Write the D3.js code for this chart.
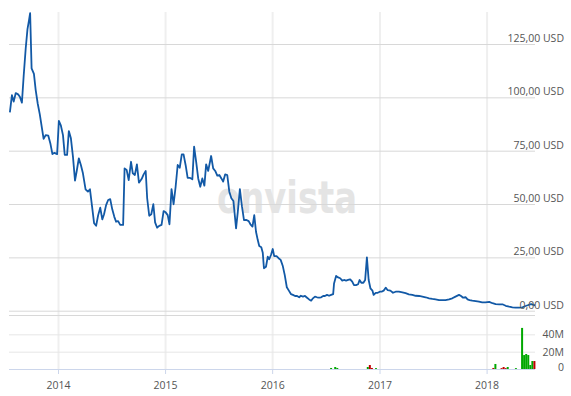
<!DOCTYPE html>
<html>
<head>
<meta charset="utf-8">
<script src="https://cdn.jsdelivr.net/npm/d3@7"></script>
<style>
  body { margin: 0; background: #fff; }
  text { font-family: "Open Sans", sans-serif; }
</style>
</head>
<body>
<div id="wrapper"></div>
<script>
// # Data
const priceDates = [
  "2013-07-21","2013-07-28","2013-08-03","2013-08-10","2013-08-18","2013-08-24","2013-08-31","2013-09-06",
  "2013-09-13","2013-09-19","2013-09-24","2013-09-28","2013-10-03","2013-10-11","2013-10-17","2013-10-24",
  "2013-10-31","2013-11-07","2013-11-13","2013-11-20","2013-11-29","2013-12-06","2013-12-13","2013-12-20",
  "2013-12-29","2014-01-04","2014-01-11","2014-01-18","2014-01-24","2014-02-01","2014-02-07","2014-02-14",
  "2014-02-21","2014-02-28","2014-03-06","2014-03-13","2014-03-20","2014-03-27","2014-04-05","2014-04-13",
  "2014-04-20","2014-04-27","2014-05-04","2014-05-11","2014-05-18","2014-05-25","2014-06-01","2014-06-07",
  "2014-06-14","2014-06-21","2014-06-28","2014-07-05","2014-07-12","2014-07-18","2014-07-25","2014-08-01",
  "2014-08-11","2014-08-16","2014-08-23","2014-08-30","2014-09-07","2014-09-13","2014-09-20","2014-09-27",
  "2014-10-04","2014-10-13","2014-10-20","2014-10-27","2014-11-01","2014-11-08","2014-11-15","2014-11-22",
  "2014-11-28","2014-12-05","2014-12-12","2014-12-20","2014-12-27","2015-01-03","2015-01-10","2015-01-16",
  "2015-01-23","2015-01-30","2015-02-06","2015-02-13","2015-02-20","2015-02-27","2015-03-05","2015-03-12",
  "2015-03-19","2015-03-26","2015-04-04","2015-04-10","2015-04-17","2015-04-24","2015-05-01","2015-05-08",
  "2015-05-15","2015-05-21","2015-05-28","2015-06-07","2015-06-14","2015-06-21","2015-06-28","2015-07-05",
  "2015-07-12","2015-07-18","2015-07-25","2015-08-01","2015-08-08","2015-08-15","2015-08-22","2015-08-31",
  "2015-09-06","2015-09-13","2015-09-20","2015-09-27","2015-10-04","2015-10-13","2015-10-19","2015-10-26",
  "2015-11-01","2015-11-07","2015-11-13","2015-11-18","2015-11-25","2015-11-30","2015-12-04","2015-12-11",
  "2015-12-17","2015-12-22","2015-12-28","2016-01-03","2016-01-08","2016-01-16","2016-01-23","2016-01-30",
  "2016-02-06","2016-02-13","2016-02-20","2016-02-27","2016-03-05","2016-03-12","2016-03-19","2016-03-26",
  "2016-04-02","2016-04-08","2016-04-15","2016-04-22","2016-04-29","2016-05-06","2016-05-13","2016-05-19",
  "2016-05-26","2016-06-02","2016-06-09","2016-06-16","2016-06-23","2016-06-29","2016-07-06","2016-07-13",
  "2016-07-20","2016-07-27","2016-07-30","2016-08-06","2016-08-13","2016-08-20","2016-08-27","2016-09-02",
  "2016-09-09","2016-09-16","2016-09-23","2016-09-30","2016-10-06","2016-10-13","2016-10-20","2016-10-25",
  "2016-10-31","2016-11-07","2016-11-13","2016-11-19","2016-11-25","2016-12-01","2016-12-08","2016-12-12",
  "2016-12-19","2016-12-26","2017-01-02","2017-01-08","2017-01-15","2017-01-22","2017-01-29","2017-02-07",
  "2017-02-16","2017-02-25","2017-03-08","2017-03-20","2017-03-31","2017-04-11","2017-04-23","2017-05-04",
  "2017-05-16","2017-05-27","2017-06-07","2017-06-19","2017-06-30","2017-07-11","2017-07-23","2017-08-03",
  "2017-08-14","2017-08-26","2017-09-06","2017-09-17","2017-09-29","2017-10-06","2017-10-13","2017-10-22",
  "2017-10-28","2017-11-04","2017-11-13","2017-11-25","2017-12-06","2017-12-17","2017-12-28","2018-01-10",
  "2018-01-21","2018-02-01","2018-02-13","2018-02-24","2018-03-07","2018-03-19","2018-03-30","2018-04-10",
  "2018-04-22","2018-05-03","2018-05-14","2018-05-26","2018-06-02","2018-06-10","2018-06-15"
];
const priceValues = [
  93, 101, 98, 102, 101.4, 100.3, 97.5, 110,
  123, 132, 136, 139.5, 113.6, 111, 103.4, 97,
  92, 85.8, 80.5, 82.3, 82, 78.4, 73.4, 74,
  73.4, 89, 86.7, 82.3, 73, 73, 84.2, 80.8,
  72.2, 61, 65.6, 71.4, 68.3, 64.4, 56.9, 55.8,
  56.9, 49, 41, 39.8, 44.8, 48.3, 42.8, 45.2,
  49.5, 51.9, 52.3, 47.5, 44, 41.7, 42, 40.2,
  40.2, 66.7, 66, 61.2, 69.8, 64.4, 63.6, 68.6,
  60, 61.7, 63.9, 65.5, 52.7, 44.5, 45.2, 49.9,
  41.4, 38.9, 39.8, 40.2, 46.7, 46.1, 44.8, 40.5,
  57, 49.9, 58.1, 68.3, 67, 73.3, 73.3, 68.3,
  62.3, 62.3, 61.6, 76.9, 69.8, 62, 58.1, 62,
  58.6, 68.6, 65.5, 72.5, 66.7, 65.5, 63.3, 63.6,
  62, 60.5, 63.9, 63.6, 55.8, 52.7, 51.4, 38.6,
  46.4, 57, 49, 42.5, 42.6, 42, 40.5, 39.4,
  44.8, 37, 33.1, 30.3, 29.7, 27.2, 19.9, 20.6,
  25.3, 24.1, 26.1, 28.9, 25.6, 25.6, 24.6, 23.8,
  21.1, 16.7, 11, 9.4, 7.8, 7.4, 6.9, 6.9,
  6.3, 7, 6.6, 6.9, 6.1, 5.3, 4.7, 5.8,
  6.6, 6.3, 6.1, 6.3, 6.9, 6.9, 7.4, 7,
  7.4, 7.8, 12.8, 16.3, 15.6, 15.2, 14.1, 14.4,
  14.1, 14.4, 14.7, 13.6, 12, 12, 12.4, 14.4,
  13.1, 13.1, 14.4, 25, 14.4, 10.5, 9.4, 7.4,
  8.4, 8.4, 8.9, 8.9, 9.4, 10.8, 9.6, 9.4,
  8.4, 8.9, 8.9, 8.6, 8.2, 7.7, 7.4, 7,
  6.9, 6.6, 6.3, 5.8, 5.5, 5.3, 5, 5,
  5, 5.3, 5.8, 6.6, 7.4, 6.9, 6.1, 6.3,
  5.3, 5, 4.7, 4.5, 4.2, 3.9, 3.9, 4.1,
  3.5, 3.1, 3, 3, 2.3, 1.9, 1.6, 1.4,
  1.4, 1.6, 2.2, 2.8, 3.1, 2.7, 2.5
];

// weekly traded volume, "up" = green week, "down" = red week
const volumeDates = [
  "2016-07-20","2016-08-03","2016-08-10","2016-11-22","2016-11-29","2016-12-06","2016-12-20",
  "2018-01-24","2018-01-31","2018-02-21","2018-02-28","2018-03-07","2018-03-14","2018-04-11",
  "2018-05-02","2018-05-09","2018-05-16","2018-05-23","2018-05-30","2018-06-06","2018-06-13"
];
const volumeValues = [
  1.2e6, 2.3e6, 1.2e6, 2.3e6, 4.6e6, 1.2e6, 1.0e6,
  1.2e6, 5.8e6, 1.0e6, 2.3e6, 1.0e6, 2.3e6, 1.0e6,
  47.4e6, 16.1e6, 17.3e6, 16.1e6, 4.6e6, 9.2e6, 9.2e6
];
const volumeDirections = [
  "up","up","up","up","down","down","up",
  "down","up","down","down","down","up","up",
  "up","up","up","up","up","up","down"
];

const yearTicks = ["2014-01-01","2015-01-01","2016-01-01","2017-01-01","2018-01-01"];
const priceTicks = [0, 25, 50, 75, 100, 125];
const volumeTicks = [0, 20e6, 40e6];

function drawChart() {
  const parseDate = d3.timeParse("%Y-%m-%d");
  const prices = priceDates.map((d, i) => ({ date: parseDate(d), value: priceValues[i] }));
  const volumes = volumeDates.map((d, i) => ({
    date: parseDate(d), value: volumeValues[i], dir: volumeDirections[i]
  }));

  // # Dimensions
  const dimensions = {
    width: 571,
    height: 396,
    left: 9,
    right: 535,
    priceTop: 12,
    priceBottom: 310.7,
    volumeTop: 315,
    volumeBottom: 369,
  };

  const wrapper = d3.select("#wrapper")
    .append("svg")
    .attr("width", dimensions.width)
    .attr("height", dimensions.height);

  // # Scales
  const xScale = d3.scaleTime()
    .domain([parseDate("2013-07-18"), parseDate("2018-06-15")])
    .range([dimensions.left, dimensions.right]);

  const yScale = d3.scaleLinear()
    .domain([0, 140])
    .range([dimensions.priceBottom, dimensions.priceTop]);

  const volScale = d3.scaleLinear()
    .domain([0, 62.3e6])
    .range([dimensions.volumeBottom, dimensions.volumeTop]);

  // # Vertical year grid (light, 2px)
  const xGrid = wrapper.append("g")
    .attr("transform", `translate(0, ${dimensions.volumeBottom})`)
    .call(d3.axisBottom(xScale)
      .tickValues(yearTicks.map(parseDate))
      .tickSize(-(dimensions.volumeBottom - dimensions.priceTop))
      .tickFormat(""));
  xGrid.select(".domain").remove();
  xGrid.selectAll("line").attr("stroke", "#efefef").attr("stroke-width", 2);

  // # Watermark
  wrapper.append("text")
    .attr("x", 287)
    .attr("y", 213)
    .attr("text-anchor", "middle")
    .attr("textLength", 140)
    .attr("lengthAdjust", "spacingAndGlyphs")
    .style("font-family", "'DejaVu Sans', sans-serif")
    .style("font-weight", "bold")
    .style("font-size", "44px")
    .attr("fill", "#e4e4e4")
    .text("onvista");

  // # Price grid
  const yAxis = wrapper.append("g")
    .attr("transform", `translate(${dimensions.right}, 0)`)
    .call(d3.axisLeft(yScale)
      .tickValues(priceTicks)
      .tickSize(dimensions.right - dimensions.left)
      .tickFormat(""));
  yAxis.select(".domain").remove();
  yAxis.selectAll("line").attr("stroke", "#d8d8d8").attr("stroke-width", 1);

  // # Volume panel grid
  const volAxis = wrapper.append("g")
    .attr("transform", `translate(${dimensions.right}, 0)`)
    .call(d3.axisLeft(volScale)
      .tickValues(volumeTicks.filter(d => d > 0))
      .tickSize(dimensions.right - dimensions.left)
      .tickFormat(""));
  volAxis.select(".domain").remove();
  volAxis.selectAll("line").attr("stroke", "#e6e6e6").attr("stroke-width", 1);

  wrapper.append("line")
    .attr("x1", dimensions.left).attr("x2", dimensions.right)
    .attr("y1", dimensions.volumeTop + 0.5).attr("y2", dimensions.volumeTop + 0.5)
    .attr("stroke", "#d8d8d8");

  // # Volume bars
  wrapper.append("g")
    .selectAll("rect")
    .data(volumes)
    .join("rect")
    .attr("x", d => xScale(d.date) - 1)
    .attr("y", d => volScale(d.value))
    .attr("width", 2)
    .attr("height", d => dimensions.volumeBottom - volScale(d.value))
    .attr("fill", d => d.dir === "up" ? "#00a800" : "#c00000");

  // # Bottom axis (bluish line + year labels)
  const xAxis = wrapper.append("g")
    .attr("transform", `translate(0, ${dimensions.volumeBottom})`)
    .call(d3.axisBottom(xScale)
      .tickValues(yearTicks.map(parseDate))
      .tickSize(5)
      .tickPadding(8)
      .tickFormat(d3.timeFormat("%Y")));
  xAxis.select(".domain")
    .attr("d", `M${dimensions.left},0.5H${dimensions.right}`)
    .attr("stroke", "#ccd6eb");
  xAxis.selectAll("line").attr("stroke", "#ccd6eb");
  xAxis.selectAll("text")
    .attr("fill", "#555")
    .style("font-size", "10.5px")
    .style("font-family", "'Open Sans', sans-serif");

  // # Price line
  const line = d3.line()
    .x(d => xScale(d.date))
    .y(d => yScale(d.value));

  wrapper.append("path")
    .datum(prices)
    .attr("d", line)
    .attr("fill", "none")
    .attr("stroke", "#1259a6")
    .attr("stroke-width", 1.8)
    .attr("stroke-linejoin", "round");

  // # Axis labels on the right
  const labelX = 564;
  wrapper.append("g")
    .selectAll("text")
    .data(priceTicks)
    .join("text")
    .attr("x", labelX)
    .attr("y", d => yScale(d) - 2)
    .attr("text-anchor", "end")
    .attr("fill", "#555")
    .style("font-size", "10.5px")
    .text(d => d3.format(".2f")(d).replace(".", ",") + " USD");

  wrapper.append("g")
    .selectAll("text")
    .data(volumeTicks)
    .join("text")
    .attr("x", labelX)
    .attr("y", d => volScale(d) + (d === 0 ? 2 : 4))
    .attr("text-anchor", "end")
    .attr("fill", "#555")
    .style("font-size", "10.5px")
    .text(d => d === 0 ? "0" : d / 1e6 + "M");
}
drawChart();
</script>
</body>
</html>
